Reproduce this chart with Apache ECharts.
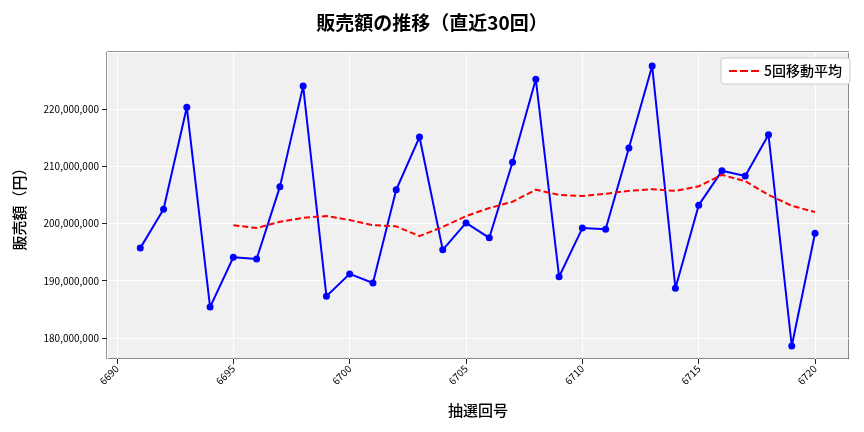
<!DOCTYPE html>
<html><head><meta charset="utf-8">
<script src="https://cdn.jsdelivr.net/npm/echarts@6/dist/echarts.min.js"></script>
<style>html,body{margin:0;padding:0;background:#fff}#c{width:864px;height:432px}</style>
</head><body><div id="c"></div>
<script>
const draws = [6691,6692,6693,6694,6695,6696,6697,6698,6699,6700,6701,6702,6703,6704,6705,6706,6707,6708,6709,6710,6711,6712,6713,6714,6715,6716,6717,6718,6719,6720];
const sales = [195.7,202.5,220.3,185.4,194.1,193.8,206.4,224.0,187.3,191.2,189.6,205.9,215.1,195.4,200.1,197.5,210.7,225.2,190.7,199.2,199.0,213.2,227.5,188.7,203.2,209.2,208.3,215.5,178.6,198.3];
const maDraws = draws.slice(4);
const ma5 = [199.7,199.2,200.3,201.0,201.3,200.6,199.7,199.5,197.8,199.4,201.3,202.7,203.8,205.9,205.0,204.8,205.2,205.7,206.0,205.7,206.5,208.5,207.4,205.0,203.1,202.0];
const font = 'Noto Sans CJK JP';
const chart = echarts.init(document.getElementById('c'));
chart.setOption({
  animation:false,
  textStyle:{fontFamily:font},
  title:{text:'販売額の推移（直近30回）',left:'center',top:8,textStyle:{fontSize:19,fontWeight:'bold',color:'#000',fontFamily:font}},
  legend:{right:14,top:58,orient:'vertical',backgroundColor:'#fff',borderColor:'#ccc',borderWidth:1,borderRadius:3,padding:[6,8],itemWidth:30,itemHeight:4,textStyle:{fontSize:14,color:'#000',fontWeight:'500'},data:[{name:'5回移動平均',icon:'path://M0,0H8V2H0Z M11,0H19V2H11Z M22,0H30V2H22Z'}]},
  grid:{left:107,right:15,top:52,bottom:73,backgroundColor:'#f0f0f0',show:true,borderColor:'#222',borderWidth:1},
  xAxis:{type:'value',min:6689.57,max:6721.46,splitNumber:6,name:'抽選回号',nameLocation:'middle',nameGap:44,nameTextStyle:{fontSize:15,color:'#000',fontWeight:'500'},
    axisLine:{show:false},axisTick:{show:true,lineStyle:{color:'#222'}},
    axisLabel:{rotate:45,fontSize:10,color:'#000',showMinLabel:false,showMaxLabel:false,formatter:v=>String(Math.round(v))},
    splitLine:{show:true,lineStyle:{color:'#fff',width:1}}},
  yAxis:{type:'value',min:176.33,max:229.96,splitNumber:6,name:'販売額（円）',nameLocation:'middle',nameGap:80,nameTextStyle:{fontSize:15,color:'#000',fontWeight:'500'},
    axisLine:{show:false},axisTick:{show:true,lineStyle:{color:'#222'}},
    axisLabel:{fontSize:10,color:'#000',showMinLabel:false,showMaxLabel:false,formatter:v=>(Math.round(v*1e6)).toLocaleString('en-US')},
    splitLine:{show:true,lineStyle:{color:'#fff',width:1}}},
  series:[
    {name:'販売額',type:'line',data:draws.map((d,i)=>[d,sales[i]]),symbol:'circle',symbolSize:7,lineStyle:{color:'#0000ff',width:2},itemStyle:{color:'#0000ff'}},
    {name:'5回移動平均',type:'line',data:maDraws.map((d,i)=>[d,ma5[i]]),symbol:'none',lineStyle:{color:'#ff0000',width:2,type:[6,3]},itemStyle:{color:'#ff0000'}}
  ]
});
</script></body></html>
